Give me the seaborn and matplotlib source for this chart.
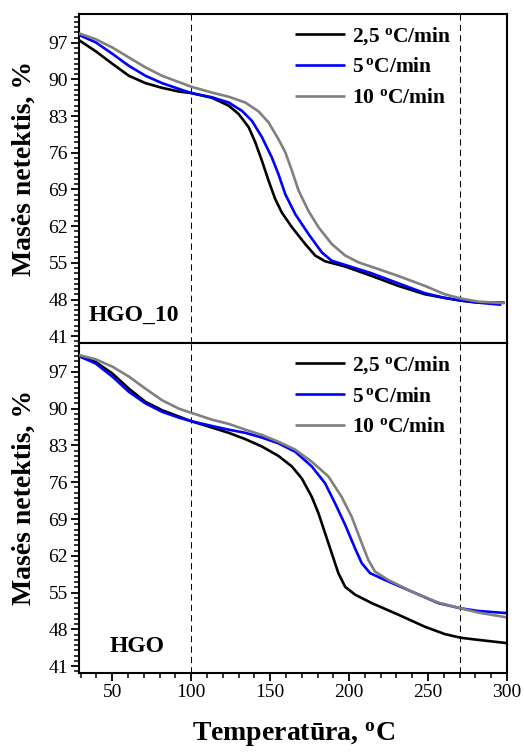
import numpy as np
import pandas as pd
import matplotlib
matplotlib.use("Agg")
import matplotlib.pyplot as plt
from matplotlib.ticker import MultipleLocator, FixedLocator
import seaborn as sns

# ---------------- data ----------------
rates = ["2,5 $^{\\mathbf{o}}$C/min", "5$\\,^{\\mathbf{o}}$C/min", "10 $^{\\mathbf{o}}$C/min"]
colors = ["#000000", "#0000ff", "#808080"]

# HGO_10 panel
hgo10_black_T = [29.0, 39.5, 50.1, 60.6, 71.1, 81.6, 92.2, 100.2, 113.2, 123.8, 130.1, 136.4, 140.6, 144.8,
                 149.0, 153.2, 157.4, 163.8, 172.2, 178.5, 184.8, 197.5, 214.3, 231.1, 248.0, 260.6, 270.7,
                 281.7, 298.5]
hgo10_black_m = [97.5, 95.4, 93.0, 90.7, 89.3, 88.4, 87.7, 87.4, 86.5, 85.0, 83.4, 80.9, 78.0, 74.5,
                 70.7, 67.2, 64.6, 61.8, 58.6, 56.4, 55.3, 54.3, 52.5, 50.6, 49.0, 48.3, 47.8,
                 47.4, 47.4]
hgo10_blue_T = [29.0, 39.5, 50.1, 60.6, 71.1, 81.6, 92.2, 100.2, 113.2, 123.8, 132.2, 138.5, 144.8, 151.1,
                155.3, 159.6, 165.9, 174.3, 182.7, 189.0, 197.5, 214.3, 231.1, 248.0, 260.6, 270.7, 281.7,
                296.4]
hgo10_blue_m = [98.5, 97.1, 94.9, 92.6, 90.7, 89.3, 88.2, 87.4, 86.6, 85.6, 84.0, 82.1, 79.0, 75.1,
                71.9, 68.1, 64.3, 60.5, 57.0, 55.4, 54.6, 53.0, 51.1, 49.2, 48.3, 47.8, 47.4,
                47.0]
hgo10_gray_T = [29.0, 39.5, 50.1, 60.6, 71.1, 81.6, 92.2, 100.2, 113.2, 123.8, 134.3, 142.7, 149.0, 155.3,
                159.6, 163.8, 168.0, 174.3, 180.6, 189.0, 197.5, 205.9, 218.5, 231.1, 248.0, 260.6, 270.7,
                281.7, 298.5]
hgo10_gray_m = [98.8, 97.7, 96.1, 94.2, 92.3, 90.7, 89.5, 88.6, 87.5, 86.7, 85.6, 83.9, 81.8, 78.6,
                76.1, 72.6, 68.8, 64.9, 61.8, 58.6, 56.4, 55.1, 53.8, 52.5, 50.6, 49.0, 48.2,
                47.6, 47.3]

# HGO panel
hgo_black_T = [29.0, 39.5, 50.1, 60.6, 71.1, 81.6, 92.2, 100.2, 113.2, 123.8, 134.3, 144.8, 155.3, 163.8,
               170.1, 176.4, 180.6, 184.8, 189.0, 193.2, 197.5, 203.8, 214.3, 231.1, 248.0, 260.6, 270.7,
               281.7, 299.4]
hgo_black_m = [100.0, 98.9, 96.7, 93.8, 91.3, 89.7, 88.5, 87.6, 86.4, 85.4, 84.2, 82.8, 81.0, 79.0,
               76.7, 73.2, 70.1, 66.3, 62.5, 58.7, 56.1, 54.6, 53.0, 50.8, 48.5, 47.1, 46.4,
               46.0, 45.4]
hgo_blue_T = [29.0, 39.5, 50.1, 60.6, 71.1, 81.6, 92.2, 100.2, 113.2, 123.8, 134.3, 144.8, 155.3, 165.9,
              176.4, 184.8, 191.1, 197.5, 203.8, 208.0, 213.3, 222.7, 239.6, 256.4, 270.7, 281.7, 299.4]
hgo_blue_m = [100.0, 98.6, 96.1, 93.2, 91.0, 89.4, 88.3, 87.6, 86.7, 86.0, 85.4, 84.5, 83.4, 81.8,
              79.0, 75.8, 72.0, 67.9, 63.4, 60.6, 58.7, 57.4, 55.2, 53.0, 52.0, 51.5, 51.1]
hgo_gray_T = [29.0, 39.5, 50.1, 60.6, 71.1, 81.6, 92.2, 100.2, 113.2, 123.8, 134.3, 144.8, 155.3, 165.9,
              176.4, 186.9, 195.3, 201.7, 208.0, 212.2, 216.4, 224.8, 239.6, 256.4, 270.7, 281.7, 299.4]
hgo_gray_m = [100.2, 99.4, 98.0, 96.1, 93.8, 91.6, 90.0, 89.2, 87.9, 87.1, 86.0, 85.0, 83.7, 82.2,
              79.9, 77.1, 73.2, 69.4, 64.4, 61.2, 59.0, 57.4, 55.2, 53.1, 52.0, 51.2, 50.3]

panel_names = ["HGO_10", "HGO"]
yticks = [41, 48, 55, 62, 69, 76, 83, 90, 97]
xticks = [50, 100, 150, 200, 250, 300]
vlines = [100, 270]


def make_df(series):
    frames = []
    for (T, m), r in zip(series, rates):
        frames.append(pd.DataFrame({"T": T, "m": m, "rate": r}))
    return pd.concat(frames, ignore_index=True)


df_top = make_df([(hgo10_black_T, hgo10_black_m), (hgo10_blue_T, hgo10_blue_m), (hgo10_gray_T, hgo10_gray_m)])
df_bot = make_df([(hgo_black_T, hgo_black_m), (hgo_blue_T, hgo_blue_m), (hgo_gray_T, hgo_gray_m)])

# ---------------- style ----------------
sns.set_theme(style="ticks")
plt.rcParams["font.family"] = ["Liberation Serif", "DejaVu Serif"]
plt.rcParams["mathtext.fontset"] = "custom"
plt.rcParams["mathtext.rm"] = "Liberation Serif"
plt.rcParams["mathtext.bf"] = "Liberation Serif:bold"
plt.rcParams["mathtext.it"] = "Liberation Serif:italic"
plt.rcParams["text.color"] = "black"
plt.rcParams["axes.labelcolor"] = "black"
plt.rcParams["xtick.color"] = "black"
plt.rcParams["ytick.color"] = "black"
plt.rcParams["lines.solid_capstyle"] = "butt"

fig = plt.figure(figsize=(5.24, 7.52), dpi=100)
ax_top = fig.add_axes([0.1508, 0.5439, 0.8168, 0.4375])
ax_bot = fig.add_axes([0.1508, 0.1051, 0.8168, 0.4388])

for ax, df, name, (lx, ly) in [(ax_top, df_top, panel_names[0], (0.023, 0.067)),
                               (ax_bot, df_bot, panel_names[1], (0.072, 0.065))]:
    for v in vlines:
        ax.axvline(v, color="black", lw=0.75, linestyle=(0, (6, 4)), zorder=1)
    sns.lineplot(data=df, x="T", y="m", hue="rate", hue_order=rates, palette=colors,
                 estimator=None, linewidth=1.9, ax=ax, zorder=3)
    ax.set_xlim(29, 300)
    ax.set_ylim(39.7, 102.5)
    ax.yaxis.set_major_locator(FixedLocator(yticks))
    ax.yaxis.set_minor_locator(MultipleLocator(1))
    ax.xaxis.set_major_locator(FixedLocator(xticks))
    ax.xaxis.set_minor_locator(MultipleLocator(10))
    for s in ax.spines.values():
        s.set_linewidth(1.5)
        s.set_color("black")
    ax.tick_params(axis="both", which="major", direction="out", length=6, width=1.3,
                   labelsize=14, colors="black", pad=2)
    ax.tick_params(axis="both", which="minor", direction="out", length=3.5, width=1.1, colors="black")
    ax.set_ylabel("Masės netektis, %", fontsize=20, fontweight="bold", color="black")
    ax.set_xlabel("")
    h, l = ax.get_legend_handles_labels()
    ax.legend(h, l, loc="upper left", bbox_to_anchor=(0.505, 0.967), frameon=False,
              prop={"family": "Liberation Serif", "weight": "bold", "size": 15.5},
              handlelength=2.3, handletextpad=0.35, labelspacing=0.5,
              borderaxespad=0, borderpad=0)
    ax.text(lx, ly, name, transform=ax.transAxes, fontsize=17, fontweight="bold",
            ha="left", va="baseline", color="black")

ax_top.tick_params(axis="x", which="both", bottom=False, labelbottom=False)
ax_top.yaxis.set_label_coords(-0.100, 0.53)
ax_bot.yaxis.set_label_coords(-0.100, 0.533)

ax_bot.set_xlabel("Temperatūra, $^{\\mathbf{o}}$C", fontsize=20, fontweight="bold", color="black")
ax_bot.xaxis.set_label_coords(0.501, -0.146)
ax_bot.xaxis.label.set_verticalalignment("top")

fig.savefig("out.png", dpi=100)
